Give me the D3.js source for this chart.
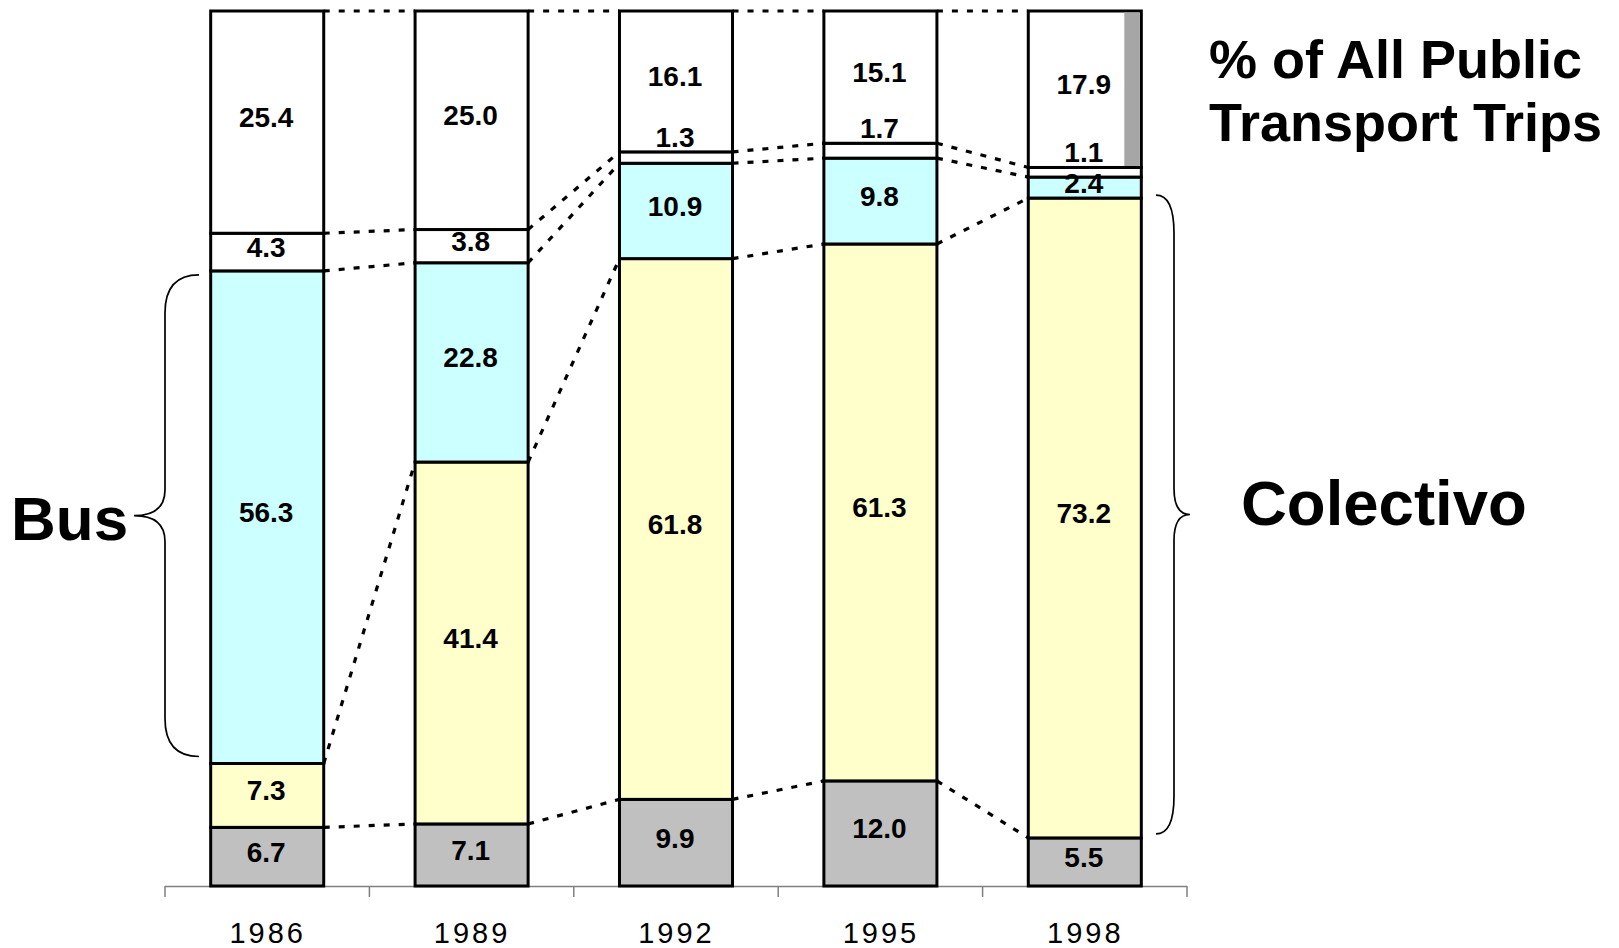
<!DOCTYPE html>
<html>
<head>
<meta charset="utf-8">
<script src="https://cdn.jsdelivr.net/npm/d3@7"></script>
<style>
  body { margin: 0; background: #fff; }
  text { font-family: "Liberation Sans", Arial, sans-serif; }
  .val { font-weight: bold; font-size: 28px; fill: #000; }
  .year { font-size: 29px; letter-spacing: 3px; fill: #000; }
  .big { font-weight: bold; font-size: 62px; fill: #000; }
  .title { font-weight: bold; font-size: 54px; fill: #000; }
</style>
</head>
<body>
<svg id="chart" width="1619" height="948"></svg>
<script>
// shares of public transport trips, bottom segment first
var years = ["1986", "1989", "1992", "1995", "1998"];
var rail      = [6.7, 7.1, 9.9, 12.0, 5.5];
var colectivo = [7.3, 41.4, 61.8, 61.3, 73.2];
var bus       = [56.3, 22.8, 10.9, 9.8, 2.4];
var other     = [4.3, 3.8, 1.3, 1.7, 1.1];
var subte     = [25.4, 25.0, 16.1, 15.1, 17.9];

var series = [rail, colectivo, bus, other, subte];
var colors = ["#c0c0c0", "#ffffcc", "#ccffff", "#ffffff", "#ffffff"];

var svg = d3.select("#chart");

var x = d3.scaleBand().domain(years).range([165, 1187]);
var y = d3.scaleLinear().domain([0, 100]).range([886, 11]);
var barW = x.bandwidth() * 0.553;

function left(i) { return x(years[i]) + (x.bandwidth() - barW) / 2; }
function right(i) { return left(i) + barW; }

// stacked segments, normalised to each year's total
var segs = [];
years.forEach(function (yr, i) {
  var total = d3.sum(series, function (s) { return s[i]; });
  var acc = 0;
  series.forEach(function (s, k) {
    var y0 = acc / total * 100;
    acc += s[i];
    segs.push({ i: i, k: k, v: s[i], y0: y0, y1: acc / total * 100 });
  });
});

// series lines between neighbouring bars
var links = [];
segs.forEach(function (d) {
  if (d.i < years.length - 1) {
    var n = segs.filter(function (e) { return e.i == d.i + 1 && e.k == d.k; })[0];
    links.push({ x1: right(d.i), y1: y(d.y1), x2: left(d.i + 1), y2: y(n.y1) });
  }
});

svg.append("g").selectAll("line")
  .data(links)
  .enter().append("line")
  .attr("x1", function (d) { return d.x1; })
  .attr("y1", function (d) { return d.y1; })
  .attr("x2", function (d) { return d.x2; })
  .attr("y2", function (d) { return d.y2; })
  .attr("stroke", "#000")
  .attr("stroke-width", 3.2)
  .attr("stroke-dasharray", "6,9");

// axis
var axis = svg.append("g");
axis.append("line")
  .attr("x1", 165).attr("x2", 1187)
  .attr("y1", 886.5).attr("y2", 886.5)
  .attr("stroke", "#808080").attr("stroke-width", 1.5);
axis.selectAll(".tick")
  .data(years.concat(["end"]))
  .enter().append("line")
  .attr("x1", function (d, i) { return 165 + i * x.step(); })
  .attr("x2", function (d, i) { return 165 + i * x.step(); })
  .attr("y1", 886).attr("y2", 897)
  .attr("stroke", "#808080").attr("stroke-width", 1.5);
axis.selectAll(".year")
  .data(years)
  .enter().append("text")
  .attr("class", "year")
  .attr("x", function (d) { return x(d) + x.bandwidth() / 2 + 0.5; })
  .attr("y", 943)
  .attr("text-anchor", "middle")
  .text(function (d) { return d; });

// bars
svg.append("g").selectAll("rect")
  .data(segs)
  .enter().append("rect")
  .attr("x", function (d) { return left(d.i); })
  .attr("width", barW)
  .attr("y", function (d) { return y(d.y1); })
  .attr("height", function (d) { return y(d.y0) - y(d.y1); })
  .attr("fill", function (d) { return colors[d.k]; })
  .attr("stroke", "#000")
  .attr("stroke-width", 3);

// darker strip on the right of the 1998 top segment
var top98 = segs.filter(function (d) { return d.i == 4 && d.k == 4; })[0];
svg.append("rect")
  .attr("x", right(4) - 17)
  .attr("width", 15.5)
  .attr("y", y(top98.y1) + 1.5)
  .attr("height", y(top98.y0) - y(top98.y1) - 3)
  .attr("fill", "#a6a6a6");

// value labels (thin segments get their label above)
svg.append("g").selectAll("text")
  .data(segs)
  .enter().append("text")
  .attr("class", "val")
  .attr("text-anchor", "middle")
  .attr("x", function (d) { return left(d.i) + barW / 2 - 1; })
  .attr("y", function (d) {
    if (d.v < 2) return y(d.y1) - 5;
    return (y(d.y0) + y(d.y1)) / 2 + 5;
  })
  .text(function (d) { return d.v.toFixed(1); });

// braces
function brace(xEnd, xLine, xTip, y0, y1) {
  var ym = (y0 + y1) / 2, r = 38, t = 26;
  return "M" + xEnd + "," + y0 +
    " Q" + xLine + "," + y0 + " " + xLine + "," + (y0 + r) +
    " L" + xLine + "," + (ym - t) +
    " Q" + xLine + "," + ym + " " + xTip + "," + ym +
    " Q" + xLine + "," + ym + " " + xLine + "," + (ym + t) +
    " L" + xLine + "," + (y1 - r) +
    " Q" + xLine + "," + y1 + " " + xEnd + "," + y1;
}
var busSeg = segs.filter(function (d) { return d.i == 0 && d.k == 2; })[0];
var colSeg = segs.filter(function (d) { return d.i == 4 && d.k == 1; })[0];

svg.append("path")
  .attr("d", brace(199, 165, 134, y(busSeg.y1) + 4, y(busSeg.y0) - 7))
  .attr("fill", "none").attr("stroke", "#000").attr("stroke-width", 1.7);
svg.append("path")
  .attr("d", brace(1156, 1174, 1190, y(colSeg.y1) - 3, y(colSeg.y0) - 4))
  .attr("fill", "none").attr("stroke", "#000").attr("stroke-width", 1.7);

svg.append("text").attr("class", "big").attr("x", 11).attr("y", 540).text("Bus");
svg.append("text").attr("class", "big").attr("x", 1241).attr("y", 525)
  .style("font-size", "63.5px").text("Colectivo");

svg.append("text").attr("class", "title").attr("x", 1209).attr("y", 78).text("% of All Public");
svg.append("text").attr("class", "title").attr("x", 1209).attr("y", 141).text("Transport Trips");
</script>
</body>
</html>
